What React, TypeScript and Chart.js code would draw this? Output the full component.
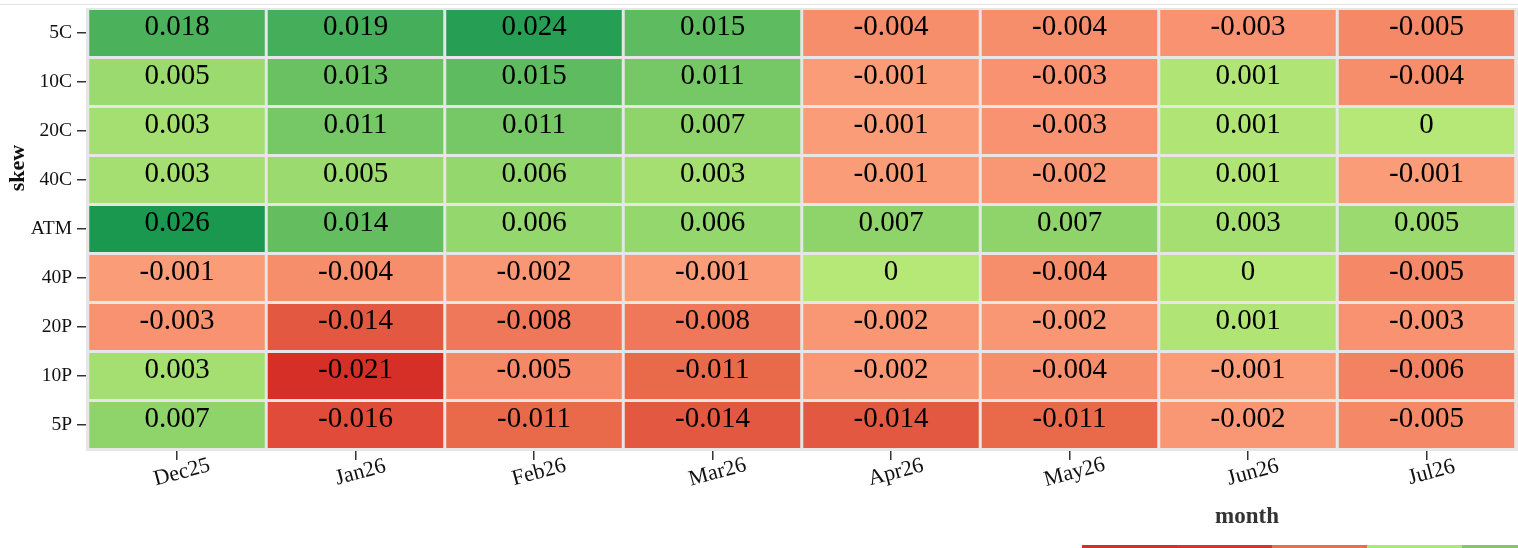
import React, { useEffect, useRef } from "react";
import { Chart, registerables } from "chart.js";

Chart.register(...registerables);

const months = ["Dec25", "Jan26", "Feb26", "Mar26", "Apr26", "May26", "Jun26", "Jul26"];
const skews = ["5C", "10C", "20C", "40C", "ATM", "40P", "20P", "10P", "5P"];

const row5C = [0.018, 0.019, 0.024, 0.015, -0.004, -0.004, -0.003, -0.005];
const row10C = [0.005, 0.013, 0.015, 0.011, -0.001, -0.003, 0.001, -0.004];
const row20C = [0.003, 0.011, 0.011, 0.007, -0.001, -0.003, 0.001, 0];
const row40C = [0.003, 0.005, 0.006, 0.003, -0.001, -0.002, 0.001, -0.001];
const rowATM = [0.026, 0.014, 0.006, 0.006, 0.007, 0.007, 0.003, 0.005];
const row40P = [-0.001, -0.004, -0.002, -0.001, 0, -0.004, 0, -0.005];
const row20P = [-0.003, -0.014, -0.008, -0.008, -0.002, -0.002, 0.001, -0.003];
const row10P = [0.003, -0.021, -0.005, -0.011, -0.002, -0.004, -0.001, -0.006];
const row5P = [0.007, -0.016, -0.011, -0.014, -0.014, -0.011, -0.002, -0.005];

const rows = [row5C, row10C, row20C, row40C, rowATM, row40P, row20P, row10P, row5P];

const legendColors = ["#d53028", "#d7352a", "#ea6d4d", "#b0e57a", "#7fc767"];

const xTitle = "month";
const yTitle = "skew";

type Stop = { v: number; c: number[] };
const negStops: Stop[] = [
  { v: 0, c: [253, 161, 126] },
  { v: -0.011, c: [233, 105, 75] },
  { v: -0.021, c: [214, 47, 39] },
];
const posStops: Stop[] = [
  { v: 0, c: [181, 232, 119] },
  { v: 0.007, c: [143, 212, 106] },
  { v: 0.026, c: [26, 152, 80] },
];

function interp(stops: Stop[], v: number): string {
  const a = Math.abs(v);
  for (let i = 0; i < stops.length - 1; i++) {
    const s0 = stops[i];
    const s1 = stops[i + 1];
    const a0 = Math.abs(s0.v);
    const a1 = Math.abs(s1.v);
    if (a <= a1 || i === stops.length - 2) {
      const t = Math.max(0, Math.min(1, (a - a0) / (a1 - a0)));
      const c = s0.c.map((x, k) => Math.round(x + (s1.c[k] - x) * t));
      return `rgb(${c[0]},${c[1]},${c[2]})`;
    }
  }
  return "#ccc";
}

function colorFor(v: number): string {
  return v < 0 ? interp(negStops, v) : interp(posStops, v);
}

const PANEL = "#e6e6e6";
const SERIF = "'Liberation Serif', 'Times New Roman', serif";

const decorPlugin = {
  id: "decor",
  beforeDraw(chart: any) {
    const ctx = chart.ctx;
    ctx.save();
    ctx.fillStyle = "#e2e2e2";
    ctx.fillRect(0, 4, chart.width, 1);
    ctx.restore();
  },
  beforeDatasetsDraw(chart: any) {
    const { ctx, chartArea } = chart;
    ctx.save();
    ctx.fillStyle = PANEL;
    const l = chartArea.left - 1.75;
    const t = chartArea.top - 0.5;
    ctx.fillRect(l, t, chart.width - l, chartArea.bottom + 1.5 - t);
    ctx.restore();
  },
  afterDatasetsDraw(chart: any) {
    const ctx = chart.ctx;
    ctx.save();
    ctx.font = `29px ${SERIF}`;
    ctx.fillStyle = "#000";
    ctx.textAlign = "center";
    ctx.textBaseline = "alphabetic";
    chart.data.datasets.forEach((ds: any, d: number) => {
      const meta = chart.getDatasetMeta(d);
      meta.data.forEach((el: any, i: number) => {
        const p = el.getProps(["x", "y", "base"], true);
        const cy = (p.y + p.base) / 2;
        ctx.fillText(String(ds.values[i]), p.x, cy + 1.5);
      });
    });
    ctx.restore();
  },
  afterDraw(chart: any) {
    const { ctx, scales } = chart;
    const xs = scales.x;
    ctx.save();
    ctx.font = `22px ${SERIF}`;
    ctx.fillStyle = "#111";
    ctx.textAlign = "center";
    ctx.textBaseline = "middle";
    months.forEach((m, i) => {
      const x = xs.getPixelForValue(i);
      ctx.save();
      ctx.translate(x + 5, chart.chartArea.bottom + 23);
      ctx.rotate((-15 * Math.PI) / 180);
      ctx.fillText(m, 0, 0);
      ctx.restore();
    });
    // axis titles
    ctx.font = `bold 23px ${SERIF}`;
    ctx.fillStyle = "#333";
    ctx.fillText(xTitle, 1247, 517);
    ctx.save();
    ctx.font = `bold 22px ${SERIF}`;
    ctx.fillStyle = "#111";
    ctx.translate(18, 168);
    ctx.rotate(-Math.PI / 2);
    ctx.fillText(yTitle, 0, 0);
    ctx.restore();
    // colour legend strip (cut off at the bottom)
    legendColors.forEach((c, i) => {
      ctx.fillStyle = c;
      ctx.fillRect(1082 + i * 95, 545, 95, 3);
    });
    ctx.restore();
  },
};

export default function App() {
  const ref = useRef<HTMLCanvasElement | null>(null);

  useEffect(() => {
    document.body.style.margin = "0";
    const canvas = ref.current;
    if (!canvas) return;
    const datasets = rows.map((vals, r) => ({
      label: skews[r],
      data: months.map(() => [r - 0.5, r + 0.5]),
      values: vals,
      backgroundColor: vals.map(colorFor),
      borderColor: PANEL,
      borderWidth: 1.5,
      borderSkipped: false,
      inflateAmount: 0,
      grouped: false,
      barPercentage: 1,
      categoryPercentage: 1,
    }));
    const chart = new Chart(canvas, {
      type: "bar",
      data: { labels: months, datasets: datasets as any },
      options: {
        responsive: false,
        animation: false,
        devicePixelRatio: 1,
        layout: { padding: { top: 8.5, right: 2.25, left: 0, bottom: 0 } },
        plugins: {
          legend: { display: false },
          tooltip: { enabled: false },
          title: { display: false },
        },
        scales: {
          x: {
            type: "category",
            offset: true,
            border: { display: false },
            grid: {
              offset: false,
              drawOnChartArea: false,
              drawTicks: true,
              tickLength: 10.5,
              color: "#333",
              lineWidth: 1.5,
            },
            ticks: { display: false },
            afterFit: (s: any) => {
              s.height = 98.5;
              s.paddingLeft = 0;
              s.paddingRight = 0;
            },
          },
          y: {
            type: "linear",
            reverse: true,
            min: -0.5,
            max: 8.5,
            border: { display: false },
            grid: {
              drawOnChartArea: false,
              drawTicks: true,
              tickLength: 10.75,
              color: "#333",
              lineWidth: 1.5,
            },
            afterBuildTicks: (axis: any) => {
              axis.ticks = skews.map((_, i) => ({ value: i }));
            },
            ticks: {
              autoSkip: false,
              padding: 5,
              color: "#111",
              font: { family: SERIF, size: 19.5 },
              callback: (v: any) => skews[Math.round(Number(v))] ?? "",
            },
            afterFit: (s: any) => {
              s.width = 87.75;
              s.paddingTop = 0;
              s.paddingBottom = 0;
            },
          },
        },
      },
      plugins: [decorPlugin],
    });
    return () => chart.destroy();
  }, []);

  return <canvas ref={ref} width={1518} height={548} style={{ display: "block" }} />;
}
